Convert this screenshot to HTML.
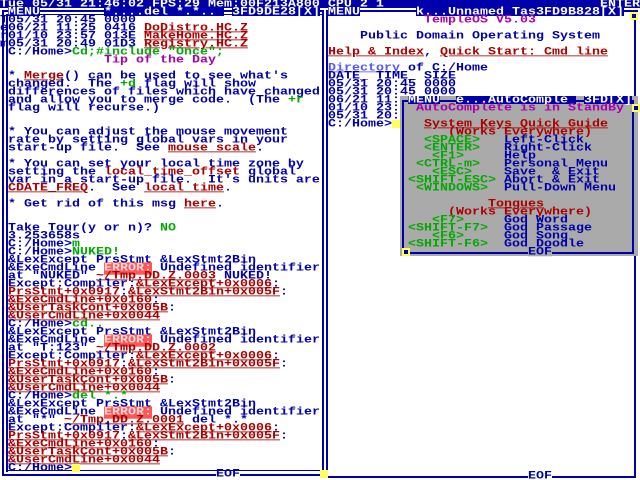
<!DOCTYPE html>
<html><head><meta charset="utf-8"><style>
html,body{margin:0;padding:0;background:#fff;}
#s{position:relative;width:640px;height:480px;overflow:hidden;background:#fff;}
.l{position:absolute;height:8px;line-height:8px;font-family:"Liberation Mono",monospace;font-weight:bold;font-size:13.33px;color:#0000aa;white-space:pre;transform:translateY(1px) scaleY(.82);transform-origin:50% 50%;}
.w{color:#fff}
.r{color:#aa0000}.u{text-decoration:underline}.g{color:#00aa00}.p{color:#aa00aa}.lb{color:#5555ff;text-decoration:underline}
.e{background:#ff5555;color:#ffdddd}
.b{position:absolute;background:#0000aa}
.bx{position:absolute;background:#0000aa;height:8px}
.y{position:absolute;background:#ffff55}
</style></head><body><div id="s">
<div class="b" style="left:0;top:0;width:640px;height:8px"></div>
<div class="l w" style="left:0;top:0">Tue 05/31 21:46:02 FPS:29 Mem:00F213A800 CPU 2 1</div>
<div class="l w" style="left:600px;top:0">ENTER</div>

<div class="b" style="left:2px;top:10px;width:2px;height:466px"></div>
<div class="b" style="left:6px;top:14px;width:2px;height:458px"></div>
<div class="b" style="left:2px;top:10px;width:322px;height:2px"></div>
<div class="b" style="left:6px;top:14px;width:316px;height:1px"></div>
<div class="b" style="left:322px;top:10px;width:2px;height:466px"></div>
<div class="b" style="left:2px;top:474px;width:322px;height:2px"></div>
<div class="b" style="left:6px;top:470px;width:316px;height:1px"></div>
<div class="bx" style="left:8px;top:8px;width:32px"></div>
<div class="bx" style="left:104px;top:8px;width:120px"></div>
<div class="bx" style="left:232px;top:8px;width:88px"></div>
<div class="l w" style="left:8px;top:8px">MENU</div>
<div class="l w" style="left:104px;top:8px">*....del *.*..</div>
<div class="l w" style="left:232px;top:8px">3FD9DE28[X]</div>

<div class="b" style="left:326px;top:10px;width:2px;height:466px"></div>
<div class="b" style="left:326px;top:10px;width:312px;height:2px"></div>
<div class="b" style="left:634px;top:12px;width:2px;height:464px"></div>
<div class="b" style="left:326px;top:476px;width:310px;height:2px"></div>
<div class="bx" style="left:328px;top:8px;width:32px"></div>
<div class="bx" style="left:416px;top:8px;width:120px"></div>
<div class="bx" style="left:536px;top:8px;width:88px"></div>
<div class="l w" style="left:328px;top:8px">MENU</div>
<div class="l w" style="left:416px;top:8px">k...Unnamed Tas</div>
<div class="l w" style="left:536px;top:8px">3FD9B828[X]</div>
<div class="y" style="left:630px;top:12px;width:8px;height:8px"></div>
<div class="b" style="left:632px;top:14px;width:4px;height:4px"></div>
<div class="y" style="left:320px;top:470px;width:8px;height:8px"></div>
<div class="l" style="left:216px;top:470px;background:#fff">EOF</div>
<div class="l" style="left:528px;top:472px;background:#fff">EOF</div>

<div class="l" style="left:0;top:16px">T05/31 20:45 0000</div>
<div class="l" style="left:0;top:24px">e06/21 11:25 0416 <span class="r u">DoDistro.HC.Z</span></div>
<div class="l" style="left:0;top:32px">r01/10 23:57 013E <span class="r u">MakeHome.HC.Z</span></div>
<div class="l" style="left:0;top:40px">m05/31 20:49 01D3 <span class="r u">Registry.HC.Z</span></div>
<div class="l" style="left:8px;top:48px">C:/Home&gt;<span class="g">Cd;#include "Once";</span></div>
<div class="l p" style="left:104px;top:56px">Tip of the Day</div>
<div class="l" style="left:8px;top:72px">* <span class="r u">Merge</span>() can be used to see what's</div>
<div class="l" style="left:8px;top:80px">changed.  The <span class="g">+d</span> flag will show</div>
<div class="l" style="left:8px;top:88px">differences of files which have changed</div>
<div class="l" style="left:8px;top:96px">and allow you to merge code.  (The <span class="g">+r</span></div>
<div class="l" style="left:8px;top:104px">flag will recurse.)</div>
<div class="l" style="left:8px;top:128px">* You can adjust the mouse movement</div>
<div class="l" style="left:8px;top:136px">rate by setting global vars in your</div>
<div class="l" style="left:8px;top:144px">start-up file.  See <span class="r u">mouse scale</span>.</div>
<div class="l" style="left:8px;top:160px">* You can set your local time zone by</div>
<div class="l" style="left:8px;top:168px">setting the <span class="r">local_time_offset</span> global</div>
<div class="l" style="left:8px;top:176px">var in a start-up file.  It's units are</div>
<div class="l" style="left:8px;top:184px"><span class="r u">CDATE_FREQ</span>.  See <span class="r u">local time</span>.</div>
<div class="l" style="left:8px;top:200px">* Get rid of this msg <span class="r u">here</span>.</div>
<div class="l" style="left:8px;top:224px">Take Tour(y or n)? <span class="g">NO</span></div>
<div class="l" style="left:8px;top:232px">3.253658s</div>
<div class="l" style="left:8px;top:240px">C:/Home&gt;<span class="g">m</span></div>
<div class="l" style="left:8px;top:248px">C:/Home&gt;<span class="g">NUKED!</span></div>
<div class="l" style="left:8px;top:256px">&amp;LexExcept PrsStmt &amp;LexStmt2Bin</div>
<div class="l" style="left:8px;top:264px">&amp;ExeCmdLine <span class="e">ERROR:</span> Undefined identifier</div>
<div class="l" style="left:8px;top:272px">at "NUKED" <span class="r u">~/Tmp.DD.Z.0003</span> NUKED!</div>
<div class="l" style="left:8px;top:280px">Except:Compiler:<span class="r u">&amp;LexExcept+0x0006</span>:</div>
<div class="l" style="left:8px;top:288px"><span class="r u">PrsStmt+0x0917</span>:<span class="r u">&amp;LexStmt2Bin+0x005F</span>:</div>
<div class="l" style="left:8px;top:296px"><span class="r u">&amp;ExeCmdLine+0x0160</span>:</div>
<div class="l" style="left:8px;top:304px"><span class="r u">&amp;UserTaskCont+0x005B</span>:</div>
<div class="l" style="left:8px;top:312px"><span class="r u">&amp;UserCmdLine+0x0044</span></div>
<div class="l" style="left:8px;top:320px">C:/Home&gt;<span class="g">cd..</span></div>
<div class="l" style="left:8px;top:328px">&amp;LexExcept PrsStmt &amp;LexStmt2Bin</div>
<div class="l" style="left:8px;top:336px">&amp;ExeCmdLine <span class="e">ERROR:</span> Undefined identifier</div>
<div class="l" style="left:8px;top:344px">at "T:123" <span class="r u">~/Tmp.DD.Z.0002</span></div>
<div class="l" style="left:8px;top:352px">Except:Compiler:<span class="r u">&amp;LexExcept+0x0006</span>:</div>
<div class="l" style="left:8px;top:360px"><span class="r u">PrsStmt+0x0917</span>:<span class="r u">&amp;LexStmt2Bin+0x005F</span>:</div>
<div class="l" style="left:8px;top:368px"><span class="r u">&amp;ExeCmdLine+0x0160</span>:</div>
<div class="l" style="left:8px;top:376px"><span class="r u">&amp;UserTaskCont+0x005B</span>:</div>
<div class="l" style="left:8px;top:384px"><span class="r u">&amp;UserCmdLine+0x0044</span></div>
<div class="l" style="left:8px;top:392px">C:/Home&gt;<span class="g">del *.*</span></div>
<div class="l" style="left:8px;top:400px">&amp;LexExcept PrsStmt &amp;LexStmt2Bin</div>
<div class="l" style="left:8px;top:408px">&amp;ExeCmdLine <span class="e">ERROR:</span> Undefined identifier</div>
<div class="l" style="left:8px;top:416px">at "*" <span class="r u">~/Tmp.DD.Z.0001</span> del *.*</div>
<div class="l" style="left:8px;top:424px">Except:Compiler:<span class="r u">&amp;LexExcept+0x0006</span>:</div>
<div class="l" style="left:8px;top:432px"><span class="r u">PrsStmt+0x0917</span>:<span class="r u">&amp;LexStmt2Bin+0x005F</span>:</div>
<div class="l" style="left:8px;top:440px"><span class="r u">&amp;ExeCmdLine+0x0160</span>:</div>
<div class="l" style="left:8px;top:448px"><span class="r u">&amp;UserTaskCont+0x005B</span>:</div>
<div class="l" style="left:8px;top:456px"><span class="r u">&amp;UserCmdLine+0x0044</span></div>
<div class="l" style="left:8px;top:464px">C:/Home&gt;</div>
<div class="y" style="left:72px;top:464px;width:8px;height:8px"></div>

<div class="l p" style="left:424px;top:16px">TempleOS V5.03</div>
<div class="l" style="left:360px;top:32px">Public Domain Operating System</div>
<div class="l" style="left:328px;top:48px"><span class="r u">Help &amp; Index</span>, <span class="r u">Quick Start: Cmd line</span></div>
<div class="l" style="left:328px;top:64px"><span class="lb">Directory</span> of C:/Home</div>
<div class="l" style="left:328px;top:72px">DATE_ TIME_ SIZE</div>
<div class="l" style="left:328px;top:80px">05/31 20:45 0000</div>
<div class="l" style="left:328px;top:88px">05/31 20:45 0000</div>
<div class="l" style="left:328px;top:96px">06/21 11:</div>
<div class="l" style="left:328px;top:104px">01/10 23:f</div>
<div class="l" style="left:328px;top:112px">05/31 20:e</div>
<div class="l" style="left:328px;top:120px">C:/Home&gt;</div>
<div class="y" style="left:392px;top:120px;width:8px;height:8px"></div>

<div style="position:absolute;left:400px;top:96px;width:238px;height:160px;background:#aaaaaa"></div>
<div class="b" style="left:402px;top:100px;width:2px;height:152px"></div>
<div class="b" style="left:632px;top:100px;width:2px;height:152px"></div>
<div class="b" style="left:402px;top:100px;width:232px;height:2px"></div>
<div class="b" style="left:402px;top:252px;width:232px;height:2px"></div>
<div class="bx" style="left:408px;top:96px;width:32px"></div>
<div class="bx" style="left:456px;top:96px;width:120px"></div>
<div class="bx" style="left:584px;top:96px;width:48px"></div>
<div class="l w" style="left:408px;top:96px">MENU</div>
<div class="l w" style="left:456px;top:96px">e...AutoComple</div>
<div class="l w" style="left:584px;top:96px">3FD[X]</div>
<div class="y" style="left:632px;top:104px;width:8px;height:8px"></div>
<div class="b" style="left:634px;top:106px;width:4px;height:4px"></div>
<div class="y" style="left:402px;top:248px;width:8px;height:8px"></div>
<div class="b" style="left:404px;top:250px;width:4px;height:4px"></div>
<div class="l" style="left:528px;top:248px;background:#aaaaaa">EOF</div>
<div class="l p" style="left:416px;top:104px">AutoComplete is in StandBy</div>
<div class="l r u" style="left:424px;top:120px">System Keys Quick Guide</div>
<div class="l r" style="left:448px;top:128px">(Works Everywhere)</div>
<div class="l g" style="left:424px;top:136px">&lt;SPACE&gt;</div><div class="l" style="left:504px;top:136px">Left-Click</div>
<div class="l g" style="left:424px;top:144px">&lt;ENTER&gt;</div><div class="l" style="left:504px;top:144px">Right-Click</div>
<div class="l g" style="left:432px;top:152px">&lt;F1&gt;</div><div class="l" style="left:504px;top:152px">Help</div>
<div class="l g" style="left:416px;top:160px">&lt;CTRL-m&gt;</div><div class="l" style="left:504px;top:160px">Personal Menu</div>
<div class="l g" style="left:432px;top:168px">&lt;ESC&gt;</div><div class="l" style="left:504px;top:168px">Save  &amp; Exit</div>
<div class="l g" style="left:408px;top:176px">&lt;SHIFT-ESC&gt;</div><div class="l" style="left:504px;top:176px">Abort &amp; Exit</div>
<div class="l g" style="left:416px;top:184px">&lt;WINDOWS&gt;</div><div class="l" style="left:504px;top:184px">Pull-Down Menu</div>
<div class="l r u" style="left:488px;top:200px">Tongues</div>
<div class="l r" style="left:448px;top:208px">(Works Everywhere)</div>
<div class="l g" style="left:432px;top:216px">&lt;F7&gt;</div><div class="l" style="left:504px;top:216px">God Word</div>
<div class="l g" style="left:408px;top:224px">&lt;SHIFT-F7&gt;</div><div class="l" style="left:504px;top:224px">God Passage</div>
<div class="l g" style="left:432px;top:232px">&lt;F6&gt;</div><div class="l" style="left:504px;top:232px">God Song</div>
<div class="l g" style="left:408px;top:240px">&lt;SHIFT-F6&gt;</div><div class="l" style="left:504px;top:240px">God Doodle</div>
</div></body></html>
